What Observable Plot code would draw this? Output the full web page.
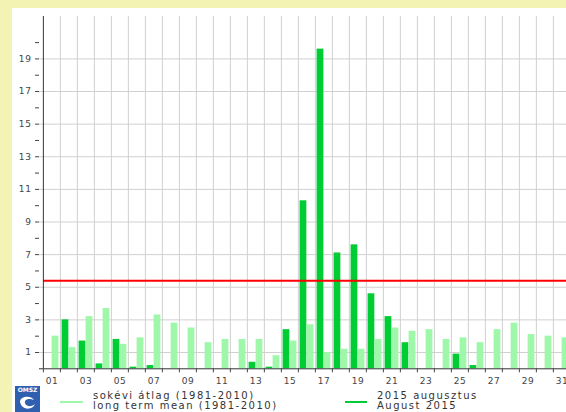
<!DOCTYPE html>
<html>
<head>
<meta charset="utf-8">
<script src="https://cdn.jsdelivr.net/npm/d3@7"></script>
<script src="https://cdn.jsdelivr.net/npm/@observablehq/plot@0.6"></script>
<style>
html, body { margin: 0; padding: 0; width: 566px; height: 412px; overflow: hidden; background: #f3f3b3; }
#panel { position: absolute; left: 12px; top: 8px; width: 554px; height: 404px; background: #ffffff; overflow: hidden; font-family: "DejaVu Sans", sans-serif; }
#chart svg { display: block; max-width: none; }
#legend { position: absolute; left: 0; top: 382.5px; width: 554px; height: 22px; color: #333; font-size: 10px; line-height: 10.8px; letter-spacing: 1.5px; }
.entry { position: absolute; top: 0; white-space: nowrap; }
.swatch { position: absolute; top: 10px; height: 2px; }
#logo { position: absolute; left: 3px; top: 378px; width: 25px; height: 26px; background: #2f5fae; color: #fff; font-size: 6px; font-weight: bold; text-align: center; line-height: 8px; letter-spacing: 0; }
</style>
</head>
<body>
<div id="panel">
  <div id="chart"></div>
  <div id="logo">OMSZ<svg width="25" height="18" viewBox="0 0 25 18" style="display:block"><path d="M5 8 C5 2, 16 1, 19 6 C15 4, 9 5, 10 9 C11 13, 17 13, 20 10 C18 16, 7 17, 5 8 Z" fill="#fff"/></svg></div>
  <div id="legend"></div>
</div>
<script>
// ---- data ----
const days = ["01","02","03","04","05","06","07","08","09","10","11","12","13","14","15","16","17","18","19","20","21","22","23","24","25","26","27","28","29","30","31"];
const dayLabels = ["01","03","05","07","09","11","13","15","17","19","21","23","25","27","29","31"];
const longTermMean = [2.0,1.3,3.2,3.7,1.5,1.9,3.3,2.8,2.5,1.6,1.8,1.8,1.8,0.8,1.7,2.7,1.0,1.2,1.2,1.8,2.5,2.3,2.4,1.8,1.9,1.6,2.4,2.8,2.1,2.0,1.9];
const august2015 = [0,3.0,1.7,0.3,1.8,0.1,0.2,0,0,0,0,0,0.4,0.1,2.4,10.3,19.6,7.1,7.6,4.6,3.2,1.6,0,0,0.9,0.2,0,0,0,0,0];
const referenceLevel = 5.4;
const yLabelTicks = [1,3,5,7,9,11,13,15,17,19];
const yMinorTicks = [2,4,6,8,10,12,14,16,18,20];
const yMax = 21.6;
const legendLines = {
  mean: ["sokévi átlag (1981-2010)", "long term mean (1981-2010)"],
  current: ["2015 augusztus", "August 2015"]
};
const colors = { mean: "#9ff7aa", current: "#00cc33", ref: "#ff0000" };

// ---- build ----
const meanRows = days.map((d, i) => ({day: d, value: longTermMean[i]}));
const curRows = days.map((d, i) => ({day: d, value: august2015[i]}));

const W = 562, H = 382, mL = 27, mR = 0, mT = 8, mB = 21.7;
const step = (W - mL - mR) / days.length;
const gridColor = "#d0d0d0";
const axisColor = "#333";

const chart = Plot.plot({
  width: W, height: H,
  marginLeft: mL, marginRight: mR, marginTop: mT, marginBottom: mB,
  style: { background: "transparent", fontFamily: "DejaVu Sans, sans-serif", fontSize: "9px", letterSpacing: "0.6px", maxWidth: "none", overflow: "visible" },
  x: { type: "band", domain: days, padding: 0, label: null },
  y: { domain: [0, yMax], label: null },
  marks: [
    Plot.gridY(yLabelTicks, { stroke: gridColor, strokeOpacity: 1 }),
    Plot.gridX(days.slice(1), { stroke: gridColor, strokeOpacity: 1, dx: -step / 2 }),
    Plot.barY(curRows, { x: "day", y: "value", fill: colors.current, insetLeft: 1.6, insetRight: step - 8.6 }),
    Plot.barY(meanRows, { x: "day", y: "value", fill: colors.mean, insetLeft: 8.6, insetRight: 1.6 }),
    Plot.ruleY([referenceLevel], { stroke: colors.ref, strokeWidth: 2, insetLeft: 4 }),
    Plot.ruleY([0], { stroke: axisColor }),
    Plot.ruleX([days[0]], { stroke: axisColor, dx: -step / 2 }),
    Plot.axisY(yLabelTicks, { tickSize: 4, tickPadding: 4, color: "#444", label: null }),
    Plot.axisY(yMinorTicks, { tickSize: 4, tickFormat: () => "", color: "#444", label: null }),
    Plot.axisX(days, { tickSize: 4, tickFormat: () => "", dx: -step / 2, color: "#444", label: null }),
    Plot.axisX(dayLabels, { tickSize: 0, tickPadding: 9, color: "#444", label: null })
  ]
});
document.getElementById("chart").appendChild(chart);

// ---- legend ----
const legend = document.getElementById("legend");
function addEntry(swLeft, swWidth, textLeft, color, lines) {
  const sw = document.createElement("div");
  sw.className = "swatch";
  sw.style.left = swLeft + "px";
  sw.style.width = swWidth + "px";
  sw.style.background = color;
  legend.appendChild(sw);
  const t = document.createElement("div");
  t.className = "entry";
  t.style.left = textLeft + "px";
  t.innerHTML = lines.map(l => "<div>" + l + "</div>").join("");
  legend.appendChild(t);
}
addEntry(48, 23, 81, colors.mean, legendLines.mean);
addEntry(333, 22, 365, colors.current, legendLines.current);
</script>
</body>
</html>
